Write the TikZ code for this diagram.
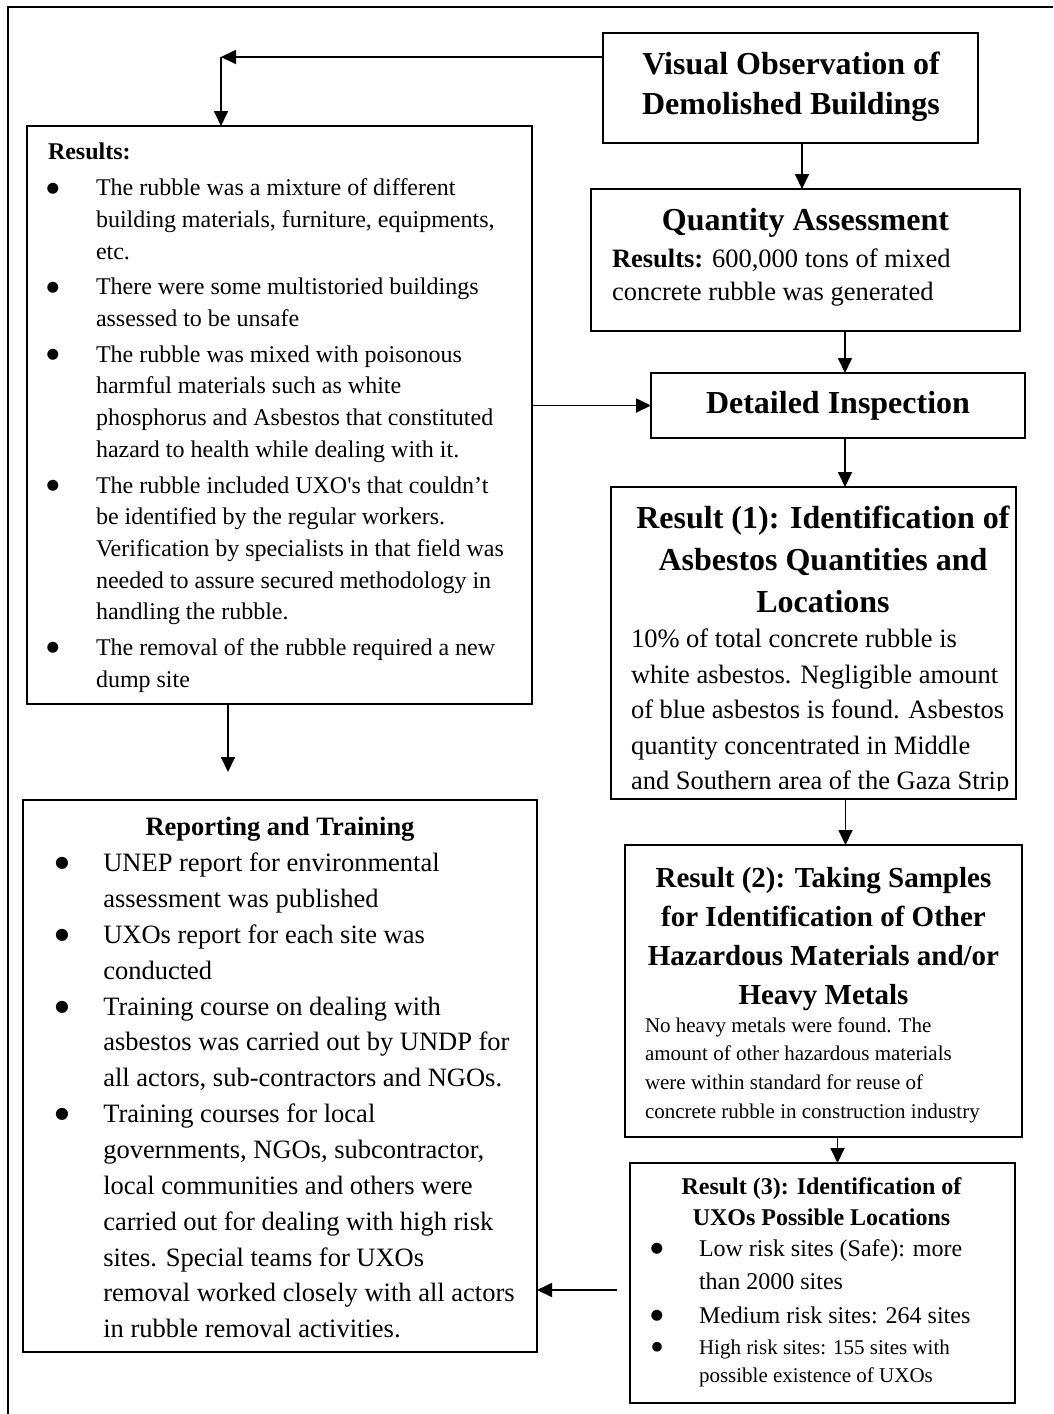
\documentclass[tikz,border=0pt]{standalone}
\usepackage{fontspec}
\usepackage{graphicx}
\setmainfont{Liberation Serif}
\newfontfamily\dejavu{DejaVu Sans}
\usetikzlibrary{arrows.meta,calc}
\newcommand{\fs}[2]{\fontsize{#1pt}{#2pt}\selectfont}
\newcommand{\bigbul}{\smash{\raisebox{0.15em}{\scalebox{0.6}{\dejavu ●}}}}
\newcommand{\bpar}[2]{\par\noindent\hangindent=#1\hangafter=1\makebox[#1][l]{\hspace*{5pt}\makebox[0pt]{\bigbul}}\ignorespaces#2}
\newcommand{\lstsetup}{\parskip=0pt\parindent=0pt\rightskip=0pt plus 1fil\parfillskip=0pt plus 1fil}
\tikzset{
  box/.style={draw, line width=1.8pt, anchor=north west, inner sep=0pt, outer sep=0pt},
  arr/.style={line width=1.8pt, -{Triangle[length=15pt,width=14pt]}},
  txt/.style={inner sep=0pt, outer sep=0pt, anchor=base west},
  ctxt/.style={inner sep=0pt, outer sep=0pt, anchor=base},
}
\begin{document}
\begin{tikzpicture}[x=1pt,y=-1pt]
\useasboundingbox (0,0) rectangle (1053,1414);
% frame
\draw[line width=1.8pt] (8,1414) -- (8,7) -- (1053,7);

% boxes
\node[box, minimum width=375pt, minimum height=110pt] (vo) at (603,33) {};
\node[box, minimum width=429pt, minimum height=142pt] (qa) at (591,189) {};
\node[box, minimum width=374pt, minimum height=65pt] (di) at (651,373) {};
\node[box, minimum width=405pt, minimum height=312pt] (r1) at (611,487) {};
\node[box, minimum width=397pt, minimum height=292pt] (r2) at (625,845) {};
\node[box, minimum width=385pt, minimum height=240pt] (r3) at (630,1163) {};
\node[box, minimum width=505pt, minimum height=578pt] (res) at (27,126) {};
\node[box, minimum width=514pt, minimum height=552pt] (rep) at (23,800) {};

% texts
\node[ctxt] (vot) at (791,74) {\parbox[t]{370pt}{\centering\fs{32}{40}\bfseries Visual Observation of\\Demolished Buildings}};

\node[ctxt] (qah) at (805.5,230) {\fs{32}{40}\bfseries Quantity Assessment};
\node[txt] (qat) at (612,267.3) {\parbox[t]{400pt}{\lstsetup\fs{26.5}{33.4}\textbf{Results:} 600,000 tons of mixed\\concrete rubble was generated}};

\node[ctxt] (dit) at (838,413.3) {\fs{32}{40}\bfseries Detailed Inspection};

\node[ctxt] (r1h) at (823,528) {\parbox[t]{400pt}{\centering\fs{32}{42}\bfseries Result (1): Identification of\\Asbestos Quantities and\\Locations}};
\begin{scope}
\clip (611,487) rectangle (1016,790);
\node[txt] (r1t) at (631,647.5) {\parbox[t]{390pt}{\lstsetup\fs{26.5}{35.5}10\% of total concrete rubble is\\white asbestos. Negligible amount\\of blue asbestos is found. Asbestos\\quantity concentrated in Middle\\and Southern area of the Gaza Strip}};
\end{scope}

\node[ctxt] (r2h) at (823.5,887) {\parbox[t]{395pt}{\centering\fs{29}{39}\bfseries Result (2): Taking Samples\\for Identification of Other\\Hazardous Materials and/or\\Heavy Metals}};
\node[txt] (r2t) at (645,1032) {\parbox[t]{375pt}{\lstsetup\fs{21}{28.7}No heavy metals were found. The\\amount of other hazardous materials\\were within standard for reuse of\\concrete rubble in construction industry}};

\node[ctxt] (r3h) at (821.5,1194) {\parbox[t]{380pt}{\centering\fs{24}{31}\bfseries Result (3): Identification of\\UXOs Possible Locations}};
\node[txt] (r3t) at (652,1256) {\parbox[t]{360pt}{\lstsetup\fs{24}{33}%
\bpar{47pt}{Low risk sites (Safe): more\\than 2000 sites}\par\vspace{1pt}%
\bpar{47pt}{Medium risk sites: 264 sites}\par\vspace{3pt}%
\fs{21}{28}\bpar{47pt}{High risk sites: 155 sites with\\possible existence of UXOs}}};

\node[txt] (rest) at (48,159.3) {\parbox[t]{480pt}{\lstsetup\fs{24}{31.7}%
\textbf{Results:}\par\vspace{4.7pt}%
\bpar{48pt}{The rubble was a mixture of different\\building materials, furniture, equipments,\\etc.}\par\vspace{4pt}%
\bpar{48pt}{There were some multistoried buildings\\assessed to be unsafe}\par\vspace{4pt}%
\bpar{48pt}{The rubble was mixed with poisonous\\harmful materials such as white\\phosphorus and Asbestos that constituted\\hazard to health while dealing with it.}\par\vspace{4pt}%
\bpar{48pt}{The rubble included UXO\textquotesingle s that couldn’t\\be identified by the regular workers.\\Verification by specialists in that field was\\needed to assure secured methodology in\\handling the rubble.}\par\vspace{4pt}%
\bpar{48pt}{The removal of the rubble required a new\\dump site}}};

\node[ctxt] (reph) at (280,835) {\fs{26.5}{35.85}\bfseries Reporting and Training};
\node[txt] (rept) at (57,871.7) {\parbox[t]{475pt}{\lstsetup\fs{26.5}{35.85}%
\bpar{46.3pt}{UNEP report for environmental\\assessment was published}%
\bpar{46.3pt}{UXOs report for each site was\\conducted}%
\bpar{46.3pt}{Training course on dealing with\\asbestos was carried out by UNDP for\\all actors, sub-contractors and NGOs.}%
\bpar{46.3pt}{Training courses for local\\governments, NGOs, subcontractor,\\local communities and others were\\carried out for dealing with high risk\\sites. Special teams for UXOs\\removal worked closely with all actors\\in rubble removal activities.}}};

% connectors
\coordinate (c1) at (221,57);
\draw[arr] (vo.west |- c1) -- (c1);
\draw[arr] (c1) -- (res.north -| c1);
\draw[arr] ([xshift=11.5pt]vo.south) -- ([xshift=11.5pt]vo.south |- qa.north);
\draw[arr] ([xshift=39.5pt]qa.south) -- ([xshift=39.5pt]qa.south |- di.north);
\draw[arr] (res.east |- di.west) -- (di.west);
\draw[arr] ([xshift=7pt]di.south) -- ([xshift=7pt]di.south |- r1.north);
\draw[arr] ([xshift=32pt]r1.south) -- ([xshift=32pt]r1.south |- r2.north);
\draw[arr] ([xshift=14pt]r2.south) -- ([xshift=14pt]r2.south |- r3.north);
\coordinate (repin) at (228,772);
\draw[arr] (res.south -| repin) -- (repin);
\coordinate (r3out) at (617,1290);
\draw[arr] (r3out) -- (rep.east |- r3out);
\end{tikzpicture}
\end{document}
